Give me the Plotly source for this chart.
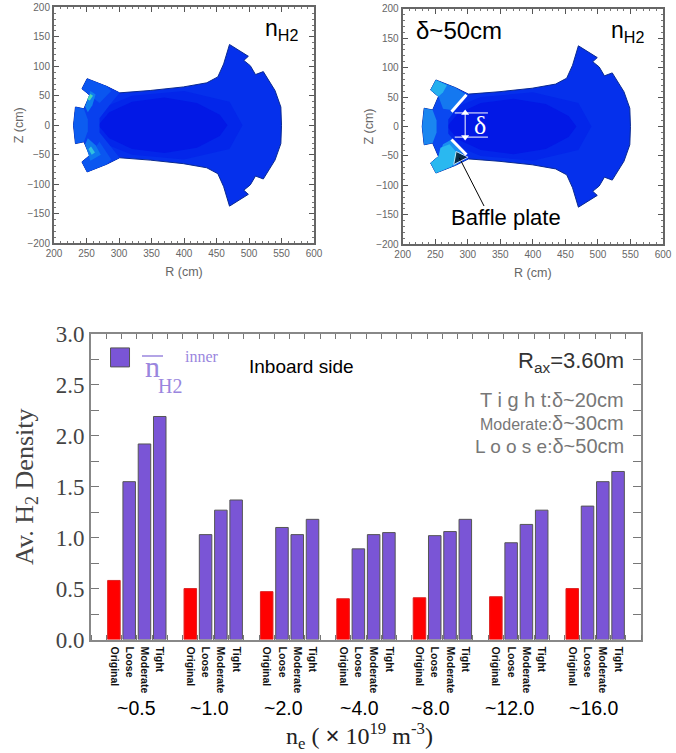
import plotly.graph_objects as go

W, H = 676, 753

# ---------- bar chart data ----------
groups = ["~0.5", "~1.0", "~2.0", "~4.0", "~8.0", "~12.0", "~16.0"]
configs = ["Original", "Loose", "Moderate", "Tight"]
original = [0.58, 0.50, 0.47, 0.40, 0.41, 0.42, 0.50]
loose = [1.55, 1.03, 1.10, 0.89, 1.02, 0.95, 1.31]
moderate = [1.92, 1.27, 1.03, 1.03, 1.06, 1.13, 1.55]
tight = [2.19, 1.37, 1.18, 1.05, 1.18, 1.27, 1.65]

# ---------- vessel cross-section (upper half outline, R, Z in cm) ----------
outline_r = [550, 549, 540, 522, 510, 502, 492, 499, 470, 461, 452, 435, 399, 348, 301, 281, 251, 243, 255, 246, 233, 230]
outline_z = [0, 31, 59, 91, 86, 101, 110, 117, 137, 104, 82, 72, 65, 59, 55, 66, 79, 62, 51, 28, 31, 0]
core_r = [268, 285, 320, 370, 420, 455, 467, 455, 420, 370, 320, 285, 268]
core_z = [0, 22, 40, 47, 38, 18, 0, -18, -38, -47, -40, -22, 0]
mid_r = [262, 280, 320, 400, 470, 490, 470, 400, 320, 280, 262]
mid_z = [0, 32, 50, 58, 40, 0, -40, -58, -50, -32, 0]
# inboard lighter zones, (R, Z)
inb_r = [230, 233, 246, 255, 243, 251, 281, 301, 288, 270, 270, 288, 301, 281, 251, 243, 255, 246, 233, 230]
inb_z = [0, 31, 28, 51, 62, 79, 66, 55, 38, 12, -12, -38, -55, -66, -79, -62, -51, -28, -31, 0]
a_top_r = [243, 251, 281, 288, 270, 255]
a_top_z = [62, 79, 66, 58, 38, 51]
a_bot_r = [243, 251, 281, 288, 270, 255]
a_bot_z = [-62, -79, -66, -58, -28, -51]
b_top_r = [248, 256, 264, 259, 252]
b_top_z = [32, 58, 52, 34, 22]
b_bot_r = [248, 256, 272, 264, 252]
b_bot_z = [-32, -60, -50, -34, -22]
c_top_r = [251, 256, 260, 255]
c_top_z = [44, 53, 50, 42]
c_bot_r = [253, 258, 263, 257]
c_bot_z = [-40, -50, -46, -36]
left_r = [230, 233, 246, 252, 252, 246, 233, 230]
left_z = [0, 31, 28, 10, -10, -28, -31, 0]

# panel-2 pockets
p2_top_r = [243, 251, 281, 296, 275, 262, 255]
p2_top_z = [62, 79, 66, 55, 28, 30, 51]
p2_bot_r = [243, 251, 281, 296, 275, 262, 255]
p2_bot_z = [-62, -79, -66, -52, -22, -30, -51]
p2_c_r = [243, 251, 275, 286, 272, 258, 255]
p2_c_z = [-62, -79, -68, -48, -30, -36, -51]
p2_d_r = [243, 251, 268, 262, 255]
p2_d_z = [62, 79, 70, 58, 51]

baffle_top_r = [298, 275]
baffle_top_z = [54, 25]
baffle_bot_r = [275, 298]
baffle_bot_z = [-22, -48]
delta_top_r = [280, 331]
delta_top_z = [23, 23]
delta_bot_r = [280, 331]
delta_bot_z = [-18, -18]
delta_arrow_r = [296, 296]
delta_arrow_z = [23, -18]
pointer_r = [325, 287]
pointer_z = [-135, -53]

# ---------- style constants ----------
BLUE = "#0530ec"
MID = "#0326ea"
CORE = "#0218e6"
EDGE = "#0a2a90"
GRAY = "#666666"
PURPLE = "#7a55d6"
LILAC = "#9a86de"
TIMES = "Liberation Serif"
ARIAL = "Liberation Sans"


def px(x):
    return x / W


def py(y):
    return 1 - y / H


fig = go.Figure()


def poly(r, z, color, xa, ya, edge=None):
    fig.add_trace(go.Scatter(x=r, y=z, mode="lines", fill="toself", fillcolor=color,
                             line=dict(width=1 if edge else 0, color=edge or color), xaxis=xa, yaxis=ya,
                             showlegend=False, hoverinfo="skip"))


full_r = outline_r + outline_r[::-1]
full_z = outline_z + [-v for v in outline_z[::-1]]

# panel 1
poly(full_r, full_z, BLUE, "x", "y", EDGE)
poly(mid_r, mid_z, MID, "x", "y")
poly(core_r, core_z, CORE, "x", "y")
poly(inb_r, inb_z, "#0840ee", "x", "y")
poly(left_r, left_z, "#0c5cf0", "x", "y")
poly(a_top_r, a_top_z, "#0a56f0", "x", "y")
poly(a_bot_r, a_bot_z, "#0a56f0", "x", "y")
poly(b_top_r, b_top_z, "#0f80ee", "x", "y")
poly(b_bot_r, b_bot_z, "#0f78ee", "x", "y")
poly(c_top_r, c_top_z, "#48d8b8", "x", "y")
poly(c_bot_r, c_bot_z, "#30c0e0", "x", "y")

# panel 2
poly(full_r, full_z, BLUE, "x2", "y2", EDGE)
poly(mid_r, mid_z, MID, "x2", "y2")
poly(core_r, core_z, CORE, "x2", "y2")
poly(inb_r, inb_z, "#0a48f0", "x2", "y2")
poly(left_r, left_z, "#1a86f0", "x2", "y2")
poly(p2_top_r, p2_top_z, "#1478f0", "x2", "y2")
poly(p2_bot_r, p2_bot_z, "#1a90f0", "x2", "y2")
poly(p2_c_r, p2_c_z, "#2ab8f0", "x2", "y2")
poly(p2_d_r, p2_d_z, "#25b0ee", "x2", "y2")

for r, z, w in [(baffle_top_r, baffle_top_z, 3), (baffle_bot_r, baffle_bot_z, 3),
                (delta_top_r, delta_top_z, 1), (delta_bot_r, delta_bot_z, 1)]:
    fig.add_trace(go.Scatter(x=r, y=z, mode="lines", line=dict(color="white", width=w),
                             xaxis="x2", yaxis="y2", showlegend=False, hoverinfo="skip"))

# double-headed delta arrow
fig.add_trace(go.Scatter(x=delta_arrow_r, y=delta_arrow_z, mode="lines+markers", xaxis="x2", yaxis="y2",
                         line=dict(color="white", width=1), showlegend=False, hoverinfo="skip",
                         marker=dict(symbol=["triangle-up", "triangle-down"], size=7, color="white")))
# pointer to the baffle plate
fig.add_trace(go.Scatter(x=pointer_r, y=pointer_z, mode="lines+markers", xaxis="x2", yaxis="y2",
                         line=dict(color="black", width=1), showlegend=False, hoverinfo="skip",
                         marker=dict(symbol="triangle-up", angleref="previous", size=[0, 14], color="black")))

# bar chart
slot_start = [1.5 + 5 * i for i in range(len(groups))]
series = [(original, "#ff0000", 0), (loose, PURPLE, 1), (moderate, PURPLE, 2), (tight, PURPLE, 3)]
for vals, col, off in series:
    fig.add_trace(go.Bar(x=[s + off for s in slot_start], y=vals, width=0.82, xaxis="x3", yaxis="y3",
                         marker=dict(color=col, line=dict(color="#555555" if off else "#dd2222", width=1)),
                         name=configs[off], showlegend=False))

# legend swatch
fig.add_trace(go.Scatter(x=[1.9], y=[2.77], mode="markers", xaxis="x3", yaxis="y3", showlegend=False,
                         marker=dict(symbol="square", size=19, color=PURPLE,
                                     line=dict(color="#555555", width=1))))


def vessel_axis(dom, title, standoff):
    return dict(domain=dom, tickmode="linear", dtick=50, ticks="inside", ticklen=5, tickwidth=1,
                tickcolor="#555555", mirror="allticks", showline=True, linecolor="#666666", linewidth=2,
                showgrid=False, zeroline=False, automargin=False,
                minor=dict(ticks="inside", dtick=10, ticklen=2, tickcolor="#777777", showgrid=False),
                tickfont=dict(family=ARIAL, size=10, color=GRAY),
                title=dict(text=title, font=dict(family=ARIAL, size=12.5, color=GRAY), standoff=standoff))


xa1 = vessel_axis([px(54), px(314)], "R (cm)", 9)
ya1 = vessel_axis([py(243.3), py(7.3)], "Z (cm)", 1)
xa2 = vessel_axis([px(402.7), px(663)], "R (cm)", 9)
ya2 = vessel_axis([py(244.3), py(8.7)], "Z (cm)", 0)
xa1.update(range=[200, 600], anchor="y")
ya1.update(range=[-200, 200], anchor="x")
xa2.update(range=[200, 600], anchor="y2")
ya2.update(range=[-200, 200], anchor="x2")

tickvals = [s + k for s in slot_start for k in range(4)]
ticktext = [c for _ in groups for c in configs]

fig.update_layout(
    width=W, height=H, autosize=False, margin=dict(l=0, r=0, t=0, b=0),
    paper_bgcolor="white", plot_bgcolor="white", barmode="overlay",
    xaxis=xa1, yaxis=ya1, xaxis2=xa2, yaxis2=ya2,
    xaxis3=dict(domain=[px(91), px(641)], range=[0, 36], anchor="y3", tickmode="array",
                tickvals=tickvals, ticktext=ticktext, tickangle=90, ticks="", ticklen=0, automargin=False,
                ticklabelstandoff=3,
                tickfont=dict(family=ARIAL, size=10.5, color="#111111", weight="bold"),
                showline=True, linecolor="#888888", linewidth=2, showgrid=False, zeroline=False, mirror=True,
                minor=dict(ticks="inside", dtick=1, tick0=0, ticklen=5, tickcolor="#777777", showgrid=False)),
    xaxis4=dict(domain=[px(91), px(641)], range=[0, 36], overlaying="x3", side="top", anchor="y3",
                tickmode="linear", dtick=1, tick0=0, ticks="inside", ticklen=5, tickcolor="#777777",
                showticklabels=False, showgrid=False, zeroline=False, automargin=False),
    yaxis3=dict(domain=[py(639.5), py(334)], range=[0, 3], anchor="x3", tickmode="linear", dtick=0.5,
                tickformat=".1f", ticks="inside", ticklen=8, tickcolor="#777777", mirror="allticks",
                showline=True, linecolor="#888888", linewidth=2, showgrid=False, zeroline=False, automargin=False,
                minor=dict(ticks="inside", dtick=0.25, ticklen=4, tickcolor="#777777", showgrid=False),
                tickfont=dict(family=TIMES, size=23, color="#444444"),
                title=dict(text="Av. H<sub>2</sub> Density", font=dict(family=TIMES, size=26, color="#444444"), standoff=15)),
)
fig.add_trace(go.Scatter(x=[0], y=[0], xaxis="x4", yaxis="y3", mode="markers",
                         marker=dict(opacity=0), showlegend=False, hoverinfo="skip"))


def note(x, y, text, size, color="black", family=ARIAL, anchor="center", **kw):
    fig.add_annotation(xref="paper", yref="paper", x=px(x), y=py(y), text=text, showarrow=False,
                       font=dict(family=family, size=size, color=color), xanchor=anchor, yanchor="middle", **kw)


note(281, 30, "n<sub>H2</sub>", 23)
note(627, 32, "n<sub>H2</sub>", 23)
note(459, 31, "δ~50cm", 24)
note(506, 218, "Baffle plate", 22)
note(480, 126, "δ", 26, color="white", family=TIMES)

# legend label
note(152, 366, "n", 30, color=LILAC, family=TIMES)
fig.add_shape(type="line", xref="paper", yref="paper", x0=px(142), x1=px(163), y0=py(356), y1=py(356),
              line=dict(color=LILAC, width=1.5))
note(170, 386, "H2", 20, color=LILAC, family=TIMES)
note(202, 356, "inner", 16, color=LILAC, family=TIMES)
note(301, 366, "Inboard side", 19)

note(626, 362, "R<sub>ax</sub>=3.60m", 22, color="#333333", anchor="right")
SMALL = "<span style=\"font-size:20px\">%s</span>"
note(626, 400, "T i g h t:" + SMALL % "δ~20cm", 20, color="#777777", anchor="right")
note(626, 423, "Moderate:" + SMALL % "δ~30cm", 16, color="#777777", anchor="right")
note(626, 446, "L o o s e:" + SMALL % "δ~50cm", 19, color="#777777", anchor="right")

# group labels
for g, cx in zip(groups, [136, 209, 283, 359, 430, 509, 593]):
    note(cx, 708, g, 19.5)

note(359, 736, "n<sub>e</sub> ( <span style=\"font-family:'Liberation Sans'\">×</span> 10<sup>19</sup> m<sup>-3</sup>)",
     24, color="#222222", family=TIMES)

fig.write_html("out.html", post_script="document.body.style.margin='0';", config={"displayModeBar": False})
